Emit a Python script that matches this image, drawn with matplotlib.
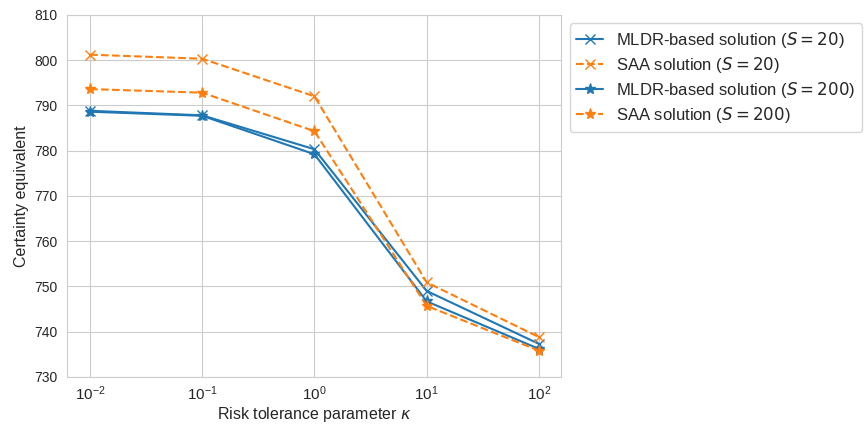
import numpy as np
import matplotlib
matplotlib.use("Agg")
import matplotlib.pyplot as plt
import seaborn as sns

sns.set_style("whitegrid")
plt.rcParams["font.family"] = ["Liberation Sans", "DejaVu Sans"]

kappa = [1e-2, 1e-1, 1e0, 1e1, 1e2]
mldr_20 = [788.8, 787.8, 780.3, 749.0, 737.3]
saa_20 = [801.2, 800.3, 792.0, 750.9, 738.8]
mldr_200 = [788.6, 787.7, 779.2, 746.7, 736.2]
saa_200 = [793.6, 792.8, 784.3, 745.7, 735.8]

fig, ax = plt.subplots(figsize=(8.65, 4.24), dpi=100)
ax.plot(kappa, mldr_20, marker="x", color="C0", markersize=7, label=r"MLDR-based solution ($S = 20$)")
ax.plot(kappa, saa_20, marker="x", color="C1", linestyle="--", markersize=7, label=r"SAA solution ($S = 20$)")
ax.plot(kappa, mldr_200, marker="*", color="C0", markersize=8, label=r"MLDR-based solution ($S = 200$)")
ax.plot(kappa, saa_200, marker="*", color="C1", linestyle="--", markersize=8, label=r"SAA solution ($S = 200$)")

ax.set_xscale("log")
ax.set_ylim(730, 810)
ax.set_xlabel(r"Risk tolerance parameter $\kappa$", fontsize=11.5, labelpad=1)
ax.set_ylabel("Certainty equivalent", fontsize=11.5)
ax.tick_params(axis="x", labelsize=11, pad=2)
ax.tick_params(axis="y", labelsize=10)
ax.legend(loc="upper left", bbox_to_anchor=(1.0, 1.0), fontsize=12,
          labelspacing=0.3, handlelength=1.6)

fig.subplots_adjust(left=0.078, right=0.649, top=0.965, bottom=0.111)
fig.savefig("out.png", dpi=100)
